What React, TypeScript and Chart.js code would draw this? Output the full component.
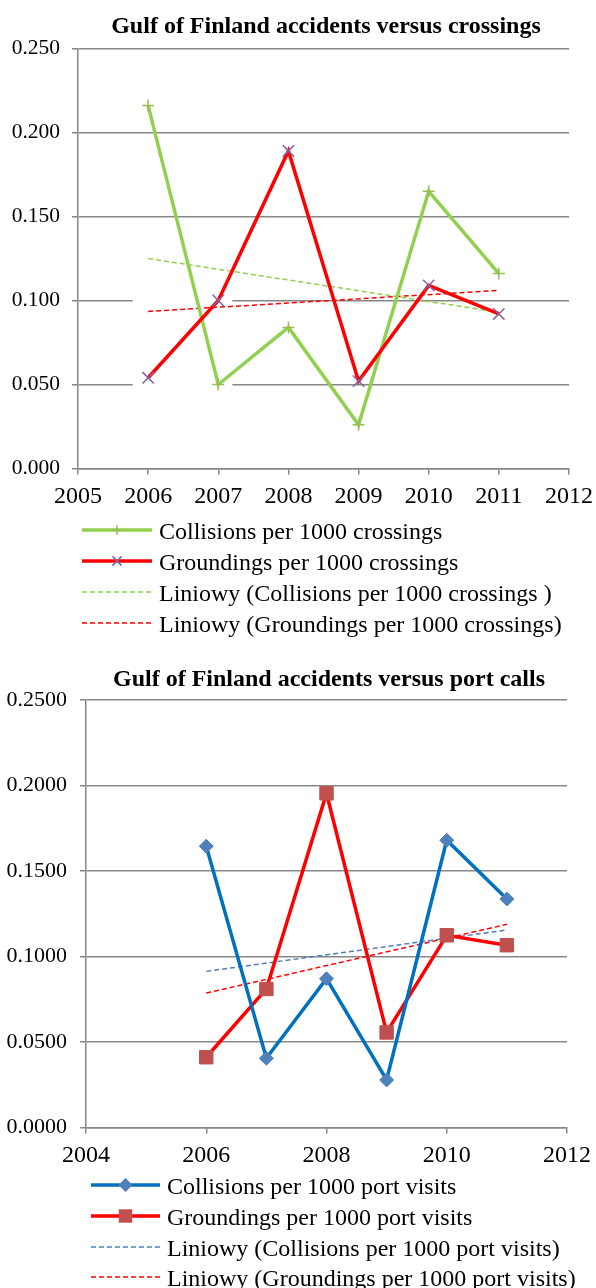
import React, { useEffect, useRef } from 'react';
import { Chart, registerables } from 'chart.js';

Chart.register(...registerables);
Chart.defaults.font.family = '"Liberation Serif", "Times New Roman", serif';
Chart.defaults.color = '#000';

// ---------- data ----------
const years = [2006, 2007, 2008, 2009, 2010, 2011];
const trendYears = [2006, 2011];

const collisionsPerCrossing = [0.216, 0.050, 0.084, 0.026, 0.165, 0.116];
const groundingsPerCrossing = [0.054, 0.100, 0.189, 0.052, 0.109, 0.092];
const collisionsCrossingTrend = [0.125, 0.093];
const groundingsCrossingTrend = [0.0935, 0.106];

const collisionsPerPortVisit = [0.1645, 0.0405, 0.087, 0.0278, 0.168, 0.1336];
const groundingsPerPortVisit = [0.0411, 0.081, 0.1954, 0.0556, 0.1124, 0.1066];
const collisionsPortTrend = [0.0913, 0.1155];
const groundingsPortTrend = [0.0786, 0.1188];

const topTitle = 'Gulf of Finland accidents versus crossings';
const bottomTitle = 'Gulf of Finland accidents versus port calls';
const topLabels = [
  'Collisions per 1000 crossings',
  'Groundings per 1000 crossings',
  'Liniowy (Collisions per 1000 crossings )',
  'Liniowy (Groundings per 1000 crossings)',
];
const bottomLabels = [
  'Collisions per 1000 port visits',
  'Groundings per 1000 port visits',
  'Liniowy (Collisions per 1000 port visits)',
  'Liniowy (Groundings per 1000 port visits)',
];

const GRID = '#878787';
const GREEN = '#92D050';
const GREEN_MARK = '#9BBB59';
const RED = '#FF0000';
const PURPLE = '#8064A2';
const BLUE = '#0070C0';
const BLUE_MARK = '#4F81BD';
const RED_MARK = '#C0504D';

type Marker = 'cross' | 'crossRot' | 'rectRot' | 'rect' | undefined;

function drawMarker(ctx: CanvasRenderingContext2D, m: Marker, x: number, y: number, r: number, color: string) {
  if (!m) return;
  ctx.save();
  ctx.strokeStyle = color;
  ctx.fillStyle = color;
  ctx.lineWidth = 1.5;
  ctx.beginPath();
  if (m === 'cross') {
    ctx.moveTo(x - r, y); ctx.lineTo(x + r, y);
    ctx.moveTo(x, y - r); ctx.lineTo(x, y + r);
    ctx.stroke();
  } else if (m === 'crossRot') {
    const d = r * Math.SQRT1_2;
    ctx.moveTo(x - d, y - d); ctx.lineTo(x + d, y + d);
    ctx.moveTo(x - d, y + d); ctx.lineTo(x + d, y - d);
    ctx.stroke();
  } else if (m === 'rectRot') {
    ctx.moveTo(x, y - r); ctx.lineTo(x + r, y); ctx.lineTo(x, y + r); ctx.lineTo(x - r, y);
    ctx.closePath(); ctx.fill();
  } else if (m === 'rect') {
    const h = r * Math.SQRT1_2;
    ctx.rect(x - h, y - h, 2 * h, 2 * h);
    ctx.fill();
  }
  ctx.restore();
}

type LegendSpec = {
  label: string; color: string; width: number; dash: number[];
  marker?: Marker; markerColor?: string; markerSize?: number;
};

type OverlayCfg = {
  title: string; titleX: number; titleY: number;
  legend: LegendSpec[]; rows: number[]; lineX0: number; lineX1: number; textX: number;
  mask?: { x0: number; x1: number; y0: number; y1: number };
};

function makeOverlay(cfg: OverlayCfg) {
  return {
    id: 'overlay',
    beforeDatasetsDraw(chart: any) {
      if (!cfg.mask) return;
      const { ctx } = chart;
      const xs = chart.scales.x, ys = chart.scales.y;
      const px0 = xs.getPixelForValue(cfg.mask.x0), px1 = xs.getPixelForValue(cfg.mask.x1);
      const py0 = ys.getPixelForValue(cfg.mask.y1), py1 = ys.getPixelForValue(cfg.mask.y0);
      ctx.save();
      ctx.fillStyle = '#fff';
      ctx.fillRect(px0, py0, px1 - px0, py1 - py0);
      ctx.restore();
    },
    afterDraw(chart: any) {
      const ctx: CanvasRenderingContext2D = chart.ctx;
      ctx.save();
      ctx.fillStyle = '#000';
      ctx.font = 'bold 24px "Liberation Serif", "Times New Roman", serif';
      ctx.textAlign = 'center';
      ctx.textBaseline = 'alphabetic';
      ctx.fillText(cfg.title, cfg.titleX, cfg.titleY);
      ctx.font = '24px "Liberation Serif", "Times New Roman", serif';
      ctx.textAlign = 'left';
      cfg.legend.forEach((e, i) => {
        const y = cfg.rows[i];
        ctx.save();
        ctx.strokeStyle = e.color;
        ctx.lineWidth = e.width;
        ctx.setLineDash(e.dash);
        ctx.beginPath();
        ctx.moveTo(cfg.lineX0, y);
        ctx.lineTo(cfg.lineX1, y);
        ctx.stroke();
        ctx.restore();
        drawMarker(ctx, e.marker, (cfg.lineX0 + cfg.lineX1) / 2, y, e.markerSize || 5, e.markerColor || e.color);
        ctx.fillStyle = '#000';
        ctx.fillText(e.label, cfg.textX, y + 8.5);
      });
      ctx.restore();
    },
  };
}

function pts(xs: number[], ys: number[]) {
  return xs.map((x, i) => ({ x, y: ys[i] }));
}

function axisCfg(xMin: number, xMax: number, xStep: number, yDigits: number, yFont: number, yPad: number, yWidth: number) {
  return {
    x: {
      type: 'linear',
      min: xMin, max: xMax,
      ticks: { stepSize: xStep, color: '#000', font: { size: 24 }, padding: 8, maxRotation: 0, autoSkip: false,
        callback: (v: any) => String(v) },
      grid: { drawOnChartArea: false, drawTicks: true, tickLength: 6, color: GRID, lineWidth: 1.5 },
      border: { color: GRID, width: 1.5 },
      afterFit: (s: any) => { s.height = 40; s.paddingLeft = 0; s.paddingRight = 0; },
    },
    y: {
      type: 'linear',
      min: 0, max: 0.25,
      ticks: { stepSize: 0.05, color: '#000', font: { size: yFont }, padding: yPad,
        callback: (v: any) => Number(v).toFixed(yDigits) },
      grid: { color: GRID, lineWidth: 1.5, tickLength: 6 },
      border: { color: GRID, width: 1.5 },
      afterFit: (s: any) => { s.width = yWidth; s.paddingTop = 0; s.paddingBottom = 0; },
    },
  };
}

function TopChart() {
  const ref = useRef<HTMLCanvasElement>(null);
  useEffect(() => {
    if (!ref.current) return;
    const chart = new Chart(ref.current, {
      type: 'line',
      data: {
        datasets: [
          { label: topLabels[0], data: pts(years, collisionsPerCrossing), borderColor: GREEN, borderWidth: 3.5,
            pointStyle: 'cross', pointRadius: 6, pointBorderColor: GREEN_MARK, pointBorderWidth: 1.5, order: 2 },
          { label: topLabels[1], data: pts(years, groundingsPerCrossing), borderColor: RED, borderWidth: 3.5,
            pointStyle: 'crossRot', pointRadius: 8, pointBorderColor: PURPLE, pointBorderWidth: 1.5, order: 1 },
          { label: topLabels[2], data: pts(trendYears, collisionsCrossingTrend), borderColor: GREEN, borderWidth: 1.5,
            borderDash: [5, 3], pointRadius: 0, order: 4 },
          { label: topLabels[3], data: pts(trendYears, groundingsCrossingTrend), borderColor: RED, borderWidth: 1.5,
            borderDash: [5, 3], pointRadius: 0, order: 3 },
        ],
      } as any,
      options: {
        responsive: false,
        animation: false,
        devicePixelRatio: 1,
        layout: { padding: { top: 48.5, left: 0, right: 27, bottom: 136.5 } },
        plugins: { legend: { display: false }, title: { display: false }, tooltip: { enabled: false } },
        scales: axisCfg(2005, 2012, 1, 3, 21.5, 12, 78) as any,
      },
      plugins: [makeOverlay({
        title: topTitle, titleX: 326, titleY: 33,
        legend: [
          { label: topLabels[0], color: GREEN, width: 3.5, dash: [], marker: 'cross', markerColor: GREEN_MARK, markerSize: 5 },
          { label: topLabels[1], color: RED, width: 3.5, dash: [], marker: 'crossRot', markerColor: PURPLE, markerSize: 6.5 },
          { label: topLabels[2], color: GREEN, width: 1.5, dash: [5, 3] },
          { label: topLabels[3], color: RED, width: 1.5, dash: [5, 3] },
        ],
        rows: [530, 561, 592, 623], lineX0: 82, lineX1: 152, textX: 159,
        mask: { x0: 2005.78, x1: 2007.2, y0: 0.04, y1: 0.11 },
      }) as any],
    });
    return () => chart.destroy();
  }, []);
  return <canvas ref={ref} width={596} height={645}
    style={{ position: 'absolute', left: 0, top: 0, width: 596, height: 645, display: 'block' }} />;
}

function BottomChart() {
  const ref = useRef<HTMLCanvasElement>(null);
  useEffect(() => {
    if (!ref.current) return;
    const chart = new Chart(ref.current, {
      type: 'line',
      data: {
        datasets: [
          { label: bottomLabels[0], data: pts(years, collisionsPerPortVisit), borderColor: BLUE, borderWidth: 3.5,
            pointStyle: 'rectRot', pointRadius: 7, pointBackgroundColor: BLUE_MARK, pointBorderColor: BLUE_MARK,
            pointBorderWidth: 1, order: 1 },
          { label: bottomLabels[1], data: pts(years, groundingsPerPortVisit), borderColor: RED, borderWidth: 3.5,
            pointStyle: 'rect', pointRadius: 9.5, pointBackgroundColor: RED_MARK, pointBorderColor: RED_MARK,
            pointBorderWidth: 1, order: 2 },
          { label: bottomLabels[2], data: pts(trendYears, collisionsPortTrend), borderColor: BLUE_MARK, borderWidth: 1.5,
            borderDash: [5, 3], pointRadius: 0, order: 4 },
          { label: bottomLabels[3], data: pts(trendYears, groundingsPortTrend), borderColor: RED, borderWidth: 1.5,
            borderDash: [5, 3], pointRadius: 0, order: 3 },
        ],
      } as any,
      options: {
        responsive: false,
        animation: false,
        devicePixelRatio: 1,
        layout: { padding: { top: 55, left: 0, right: 29, bottom: 120.5 } },
        plugins: { legend: { display: false }, title: { display: false }, tooltip: { enabled: false } },
        scales: axisCfg(2004, 2012, 2, 4, 22, 13, 86) as any,
      },
      plugins: [makeOverlay({
        title: bottomTitle, titleX: 329, titleY: 41,
        legend: [
          { label: bottomLabels[0], color: BLUE, width: 3.5, dash: [], marker: 'rectRot', markerColor: BLUE_MARK, markerSize: 7 },
          { label: bottomLabels[1], color: RED, width: 3.5, dash: [], marker: 'rect', markerColor: RED_MARK, markerSize: 9.5 },
          { label: bottomLabels[2], color: BLUE_MARK, width: 1.5, dash: [5, 3] },
          { label: bottomLabels[3], color: RED, width: 1.5, dash: [5, 3] },
        ],
        rows: [540, 571, 602, 632], lineX0: 91, lineX1: 160, textX: 167,
      }) as any],
    });
    return () => chart.destroy();
  }, []);
  return <canvas ref={ref} width={596} height={643}
    style={{ position: 'absolute', left: 0, top: 645, width: 596, height: 643, display: 'block' }} />;
}

export default function App() {
  return (
    <div style={{ position: 'absolute', left: 0, top: 0, width: 596, height: 1288, background: '#fff', overflow: 'hidden' }}>
      <TopChart />
      <BottomChart />
    </div>
  );
}
